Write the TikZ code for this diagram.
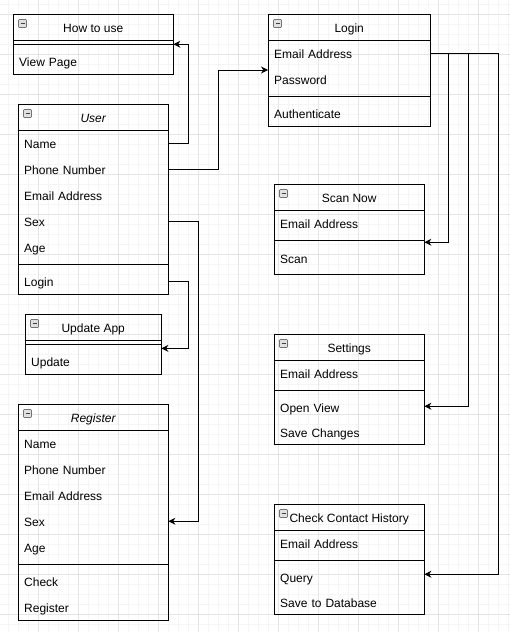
\documentclass[tikz,border=0pt]{standalone}
\usepackage{fontspec}
\setmainfont{Liberation Sans}
\usetikzlibrary{arrows.meta}
\newcommand\boxicon[1]{%
  \draw[draw=black!55, fill=black!12, line width=0.6pt, rounded corners=0.8pt]
    ([shift={(5.5,5.5)}]#1.north west) rectangle ++(8,8);
  \draw[line width=1pt, black!75] ([shift={(7.5,9.5)}]#1.north west) -- ++(4,0);}
\begin{document}
\begin{tikzpicture}[x=1pt,y=-1pt,
  every node/.style={font=\fontsize{12pt}{14pt}\selectfont},
  box/.style={draw=black, line width=1pt, anchor=north west, inner sep=0pt},
  hdr/.style={anchor=north west, minimum height=26pt, minimum width=#1, inner sep=0pt, text height=10.4pt, text depth=0pt},
  row/.style={anchor=north west, minimum height=26pt, text width=#1, inner xsep=6pt, inner ysep=0pt, text height=10.4pt, text depth=0pt, align=left},
  sep/.style={anchor=north west, minimum height=8pt, minimum width=#1, inner sep=0pt},
  rule/.style={line width=1pt},
  conn/.style={line width=1pt, -{Stealth[length=7pt,width=7pt]}},
  gmin/.style={line width=1pt, draw=black!4},
  gmaj/.style={line width=1pt, draw=black!10},
]
\useasboundingbox (0,0) rectangle (510,632);
\fill[white] (0,0) rectangle (510,632);
% grid
\foreach \x in {8,18,...,508} \draw[gmin] (\x,0) -- (\x,632);
\foreach \y in {4,14,...,624} \draw[gmin] (0,\y) -- (510,\y);
\foreach \x in {38,78,...,478} \draw[gmaj] (\x,0) -- (\x,632);
\foreach \y in {14,54,...,614} \draw[gmaj] (0,\y) -- (510,\y);

% How to use
\node[box, minimum width=160pt, minimum height=60pt] (how) at (13,14) {};
\node[hdr=160pt] (howT) at (13,14) {How to use};
\node[sep=160pt] (howsep) at (13,40) {};
\node[row=148pt] (howView) at (13,48) {View Page};
\draw[rule] (howT.south west) -- (howT.south east);
\draw[rule] (howsep.west) -- (howsep.east);
\boxicon{how}

% User
\node[box, minimum width=150pt, minimum height=190pt] (user) at (18,104) {};
\node[hdr=150pt] (userT) at (18,104) {\itshape User};
\node[row=138pt] (uName) at (18,130) {Name};
\node[row=138pt] (uPhone) at (18,156) {Phone Number};
\node[row=138pt] (uEmail) at (18,182) {Email Address};
\node[row=138pt] (uSex) at (18,208) {Sex};
\node[row=138pt] (uAge) at (18,234) {Age};
\node[sep=150pt] (usersep) at (18,260) {};
\node[row=138pt] (uLogin) at (18,268) {Login};
\draw[rule] (userT.south west) -- (userT.south east);
\draw[rule] (usersep.west) -- (usersep.east);
\boxicon{user}

% Update App
\node[box, minimum width=136pt, minimum height=60pt] (upd) at (25,314) {};
\node[hdr=136pt] (updT) at (25,314) {Update App};
\node[sep=136pt] (updsep) at (25,340) {};
\node[row=124pt] (updUpdate) at (25,348) {Update};
\draw[rule] (updT.south west) -- (updT.south east);
\draw[rule] (updsep.west) -- (updsep.east);
\boxicon{upd}

% Register
\node[box, minimum width=150pt, minimum height=216pt] (reg) at (18,404) {};
\node[hdr=150pt] (regT) at (18,404) {\itshape Register};
\node[row=138pt] (rName) at (18,430) {Name};
\node[row=138pt] (rPhone) at (18,456) {Phone Number};
\node[row=138pt] (rEmail) at (18,482) {Email Address};
\node[row=138pt] (rSex) at (18,508) {Sex};
\node[row=138pt] (rAge) at (18,534) {Age};
\node[sep=150pt] (regsep) at (18,560) {};
\node[row=138pt] (rCheck) at (18,568) {Check};
\node[row=138pt] (rRegister) at (18,594) {Register};
\draw[rule] (regT.south west) -- (regT.south east);
\draw[rule] (regsep.west) -- (regsep.east);
\boxicon{reg}

% Login
\node[box, minimum width=162pt, minimum height=112pt] (login) at (268,14) {};
\node[hdr=162pt] (loginT) at (268,14) {Login};
\node[row=150pt] (lEmail) at (268,40) {Email Address};
\node[row=150pt] (lPass) at (268,66) {Password};
\node[sep=162pt] (loginsep) at (268,92) {};
\node[row=150pt] (lAuth) at (268,100) {Authenticate};
\draw[rule] (loginT.south west) -- (loginT.south east);
\draw[rule] (loginsep.west) -- (loginsep.east);
\boxicon{login}

% Scan Now
\node[box, minimum width=150pt, minimum height=90pt] (scan) at (274,184) {};
\node[hdr=150pt] (scanT) at (274,184) {Scan Now};
\node[row=138pt] (scEmail) at (274,210) {Email Address};
\node[sep=150pt] (scansep) at (274,236.5) {};
\node[row=138pt] (scScan) at (274,245) {Scan};
\draw[rule] (scanT.south west) -- (scanT.south east);
\draw[rule] (scansep.west) -- (scansep.east);
\boxicon{scan}

% Settings
\node[box, minimum width=150pt, minimum height=110pt] (set) at (274,334) {};
\node[hdr=150pt] (setT) at (274,334) {Settings};
\node[row=138pt] (sEmail) at (274,360) {Email Address};
\node[sep=150pt] (setsep) at (274,386) {};
\node[row=138pt, minimum height=24pt] (sOpen) at (274,395) {Open View};
\node[row=138pt, minimum height=24pt] (sSave) at (274,420) {Save Changes};
\draw[rule] (setT.south west) -- (setT.south east);
\draw[rule] (setsep.west) -- (setsep.east);
\boxicon{set}

% Check Contact History
\node[box, minimum width=150pt, minimum height=110pt] (chk) at (274,504) {};
\node[hdr=150pt] (chkT) at (274,504) {Check Contact History};
\node[row=138pt] (cEmail) at (274,530) {Email Address};
\node[sep=150pt] (chksep) at (274,556) {};
\node[row=138pt, minimum height=24pt] (cQuery) at (274,565) {Query};
\node[row=138pt, minimum height=24pt] (cSave) at (274,590) {Save to Database};
\draw[rule] (chkT.south west) -- (chkT.south east);
\draw[rule] (chksep.west) -- (chksep.east);
\boxicon{chk}

% connectors
\draw[conn] (uName.east) -- ++(20,0) |- (howsep.east);
\draw[conn] (uPhone.east) -- ++(50,0) |- ([yshift=-4pt]lPass.north west);
\draw[conn] (uSex.east) -- ++(30,0) |- (rSex.east);
\draw[conn] (uLogin.east) -- ++(20,0) |- (updsep.south east);
\draw[conn] (lEmail.east) -- ++(18,0) |- ([yshift=-1.5pt]scansep.east);
\draw[conn] (lEmail.east) -- ++(38,0) |- ([yshift=1pt]sOpen.east);
\draw[conn] (lEmail.east) -- ++(68,0) |- ([yshift=3pt]cQuery.east);
\end{tikzpicture}
\end{document}
